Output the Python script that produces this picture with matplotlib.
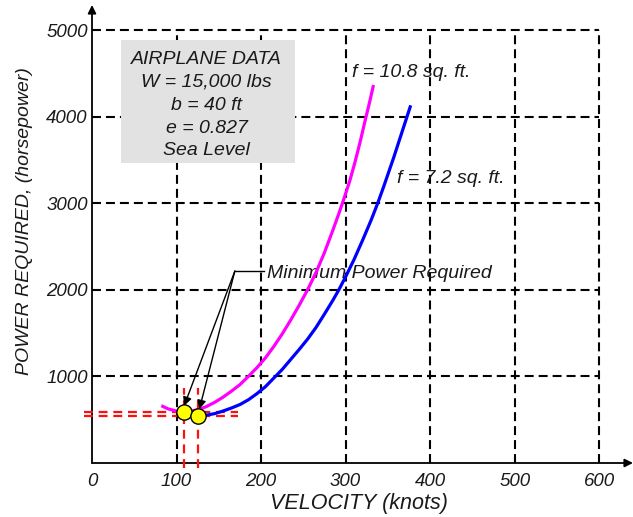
import matplotlib
matplotlib.use('Agg')
import matplotlib.pyplot as plt
from matplotlib.patches import Rectangle

# ---- data ----
velocity_f108 = [82, 90, 100, 108, 116, 125, 135, 145, 155, 165, 175, 185, 195, 205, 215, 225,
                 235, 245, 255, 265, 275, 285, 292, 298, 305, 311, 317, 323, 328, 333]
power_f108 = [662, 625, 600, 592, 598, 615, 650, 700, 760, 830, 905, 1000, 1100, 1212, 1345, 1490,
              1650, 1820, 2000, 2200, 2430, 2690, 2880, 3050, 3260, 3470, 3700, 3950, 4150, 4365]

velocity_f72 = [118, 125, 135, 145, 155, 165, 175, 185, 195, 205, 217, 225, 235, 245, 255, 265,
                275, 285, 292, 300, 310, 320, 330, 338, 345, 351, 357, 362, 367, 373, 377]
power_f72 = [548, 545, 552, 570, 600, 635, 675, 730, 800, 880, 1000, 1080, 1195, 1310, 1430, 1565,
             1720, 1880, 2000, 2150, 2350, 2570, 2800, 3000, 3190, 3360, 3530, 3680, 3830, 4010, 4130]

min_velocity = [109, 125]
min_power = [588, 543]

x_ticks = [0, 100, 200, 300, 400, 500, 600]
y_ticks = [1000, 2000, 3000, 4000, 5000]

box_lines = ["AIRPLANE DATA", "W = 15,000 lbs", "b = 40 ft", "e = 0.827", "Sea Level"]

FONT = 'Liberation Sans'
TXT = '#1a1a1a'

fig = plt.figure(figsize=(6.33, 5.17), dpi=100)
ax = fig.add_axes([92 / 633, 54 / 517, 541 / 633, 458 / 517])
ax.set_xlim(0, 640)
ax.set_ylim(0, 5289)
for s in ax.spines.values():
    s.set_visible(False)

# grid (dashed black)
dash = (0, (4.3, 2.4))
for x in x_ticks[1:]:
    ax.plot([x, x], [0, max(y_ticks)], color='black', lw=1.5, linestyle=dash, zorder=1)
for y in y_ticks:
    ax.plot([0, max(x_ticks)], [y, y], color='black', lw=1.5, linestyle=dash, zorder=1)

# axes with arrows
ax.annotate('', xy=(640, 0), xytext=(0, 0), annotation_clip=False,
            arrowprops=dict(arrowstyle='-|>', color='black', lw=1.3, mutation_scale=12,
                            shrinkA=0, shrinkB=0), zorder=2)
ax.annotate('', xy=(0, 5289), xytext=(0, 0), annotation_clip=False,
            arrowprops=dict(arrowstyle='-|>', color='black', lw=1.3, mutation_scale=12,
                            shrinkA=0, shrinkB=0), zorder=2)

# ticks
ax.set_xticks(x_ticks)
ax.set_xticklabels([str(v) for v in x_ticks], fontstyle='italic', family=FONT, fontsize=13.5, color=TXT)
ax.set_yticks(y_ticks)
ax.set_yticklabels([str(v) for v in y_ticks], fontstyle='italic', family=FONT, fontsize=13.5, color=TXT)
ax.tick_params(axis='x', length=0, pad=7)
ax.tick_params(axis='y', length=0, pad=3)

# info box
ax.add_patch(Rectangle((34, 3464), 206, 1421, facecolor='#e2e2e2', edgecolor='none', zorder=3))
box_y = [4654, 4400, 4134, 3868, 3614]
for line, yy in zip(box_lines, box_y):
    ax.text(135.7, yy, line, ha='center', va='center', fontstyle='italic', family=FONT,
            fontsize=14, color=TXT, zorder=4)

# leader / annotation
ax.text(207, 2194, 'Minimum Power Required', ha='left', va='center', fontstyle='italic',
        family=FONT, fontsize=14, color=TXT, zorder=3)
ax.plot([203, 169], [2217, 2217], color='black', lw=1.0, zorder=3)
tips = [(109, 660), (127, 622)]
for tx, ty in tips:
    ax.annotate('', xy=(tx, ty), xytext=(169, 2217),
                arrowprops=dict(arrowstyle='-|>', color='black', lw=1.0, mutation_scale=13,
                                shrinkA=0, shrinkB=0), zorder=6)

# red dashed min lines
rdash = (0, (4.0, 2.6))
for v in min_velocity:
    ax.plot([v, v], [-60, 870], color='#ff1010', lw=1.6, linestyle=rdash, clip_on=False, zorder=4)
for p in min_power:
    ax.plot([-10, 173], [p, p], color='#ff1010', lw=1.6, linestyle=rdash, clip_on=False, zorder=4)

# curves
ax.plot(velocity_f108, power_f108, color='#ff00ff', lw=2.3, zorder=5, solid_capstyle='butt',
        solid_joinstyle='round')
ax.plot(velocity_f72, power_f72, color='#0000ff', lw=2.3, zorder=5, solid_capstyle='butt',
        solid_joinstyle='round')

# curve labels
ax.text(307.7, 4515, 'f = 10.8 sq. ft.', ha='left', va='center', fontstyle='italic',
        family=FONT, fontsize=14, color=TXT, zorder=4)
ax.text(361, 3291, 'f = 7.2 sq. ft.', ha='left', va='center', fontstyle='italic',
        family=FONT, fontsize=14, color=TXT, zorder=4)

# minimum points
ax.plot(min_velocity, min_power, linestyle='none', marker='o', markersize=11,
        markerfacecolor='#ffff00', markeredgecolor='black', markeredgewidth=1.0, zorder=7)

# axis titles
fig.text(359 / 633, 1 - 503 / 517, 'VELOCITY (knots)', ha='center', va='center',
         fontstyle='italic', family=FONT, fontsize=15.5, color=TXT)
fig.text(25 / 633, 1 - 221 / 517, 'POWER REQUIRED, (horsepower)', ha='center', va='center',
         rotation=90, fontstyle='italic', family=FONT, fontsize=14, color=TXT)

fig.savefig('out.png', dpi=100)
